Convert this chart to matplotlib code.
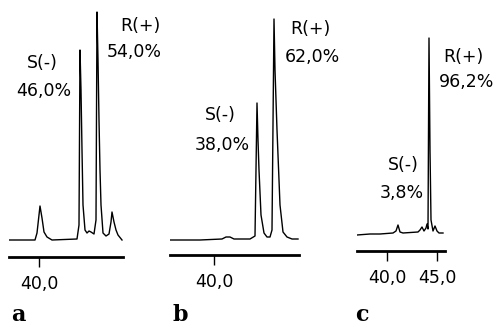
import matplotlib
matplotlib.use('Agg')
import matplotlib.pyplot as plt

# retention time (min) and detector signal for the three chromatograms
time_a = [37.0, 39.6, 39.8, 40.1, 40.3, 40.5, 40.8, 41.3, 43.8, 44.0, 44.1, 44.2,
          44.3, 44.4, 44.6, 44.8, 45.0, 45.2, 45.5, 45.7, 45.8, 45.9, 46.0, 46.1,
          46.2, 46.4, 46.7, 47.0, 47.2, 47.3, 47.5, 47.7, 47.9, 48.3]
signal_a = [0, 0, 7, 34, 22, 8, 3, 0, 1, 15, 190, 150,
            90, 35, 10, 7, 9, 8, 6, 20, 228, 180, 120, 70,
            35, 7, 4, 6, 18, 28, 18, 10, 5, 0]

time_b = [35.6, 38.6, 40.8, 41.2, 41.6, 42.0, 43.6, 44.1, 44.3, 44.4, 44.5, 44.7,
          45.0, 45.3, 45.6, 45.8, 46.0, 46.1, 46.3, 46.6, 46.9, 47.3, 47.8, 48.4]
signal_b = [0, 0, 1, 3, 3, 1, 1, 4, 137, 100, 70, 25,
            7, 3, 3, 10, 221, 170, 110, 35, 8, 3, 1, 1]

time_c = [37.0, 38.3, 39.3, 40.6, 40.9, 41.1, 41.3, 41.6, 43.1, 43.3, 43.5, 43.7,
          43.9, 44.0, 44.1, 44.2, 44.3, 44.4, 44.6, 44.8, 45.0, 45.2, 45.6]
signal_c = [0, 1, 1, 2, 4, 10, 3, 2, 3, 5, 8, 4,
            7, 11, 6, 197, 85, 15, 4, 9, 4, 2, 2]

ticks_a = [40.0]
ticks_b = [40.0]
ticks_c = [40.0, 45.0]

share_s = ['46,0%', '38,0%', '3,8%']
share_r = ['54,0%', '62,0%', '96,2%']
panel_names = ['a', 'b', 'c']

W, H = 499, 333
fig = plt.figure(figsize=(W / 100, H / 100), dpi=100)

# layout in pixels: left, right, spine y, top y, xlim, ylim bottom
layout = [
    (9, 123, 257, 5, (37.0, 48.4), -17),
    (170, 299, 255, 5, (35.6, 48.5), -15),
    (357, 445, 251, 5, (37.0, 45.8), -16),
]
# label positions (time, signal) for S and R annotations
s_pos = [(40.3, 177, 40.5, 149), (40.6, 125, 40.8, 95), (41.6, 70, 41.5, 42)]
r_pos = [(50.1, 214, 49.5, 188), (49.6, 211, 49.8, 183), (47.6, 178, 48.0, 153)]
letter_x = [18, 180, 362]

data = [(time_a, signal_a, ticks_a), (time_b, signal_b, ticks_b), (time_c, signal_c, ticks_c)]

for i, (t, s, ticks) in enumerate(data):
    left, right, ybot, ytop, xlim, y0 = layout[i]
    ax = fig.add_axes([left / W, (H - ybot) / H, (right - left) / W, (ybot - ytop) / H])
    ax.plot(t, s, color='black', lw=1.0)
    ax.set_xlim(*xlim)
    ax.set_ylim(y0, y0 + (ybot - ytop))
    for sp in ['top', 'right', 'left']:
        ax.spines[sp].set_visible(False)
    ax.spines['bottom'].set_linewidth(2.0)
    ax.set_yticks([])
    ax.set_xticks(ticks)
    ax.set_xticklabels([('%.1f' % v).replace('.', ',') for v in ticks])
    ax.tick_params(axis='x', direction='out', length=7, width=1, pad=6, labelsize=12.5)
    ax.patch.set_visible(False)

    sx, sy, px, py = s_pos[i]
    ax.text(sx, sy, 'S(-)', ha='center', va='center', fontsize=12.5, clip_on=False)
    ax.text(px, py, share_s[i], ha='center', va='center', fontsize=12.5, clip_on=False)
    rx, ry, qx, qy = r_pos[i]
    ax.text(rx, ry, 'R(+)', ha='center', va='center', fontsize=12.5, clip_on=False)
    ax.text(qx, qy, share_r[i], ha='center', va='center', fontsize=12.5, clip_on=False)

    fig.text(letter_x[i] / W, (H - 315) / H, panel_names[i], ha='center', va='center',
             fontsize=16, fontweight='bold', family='DejaVu Serif')

fig.savefig('out.png', dpi=100)
